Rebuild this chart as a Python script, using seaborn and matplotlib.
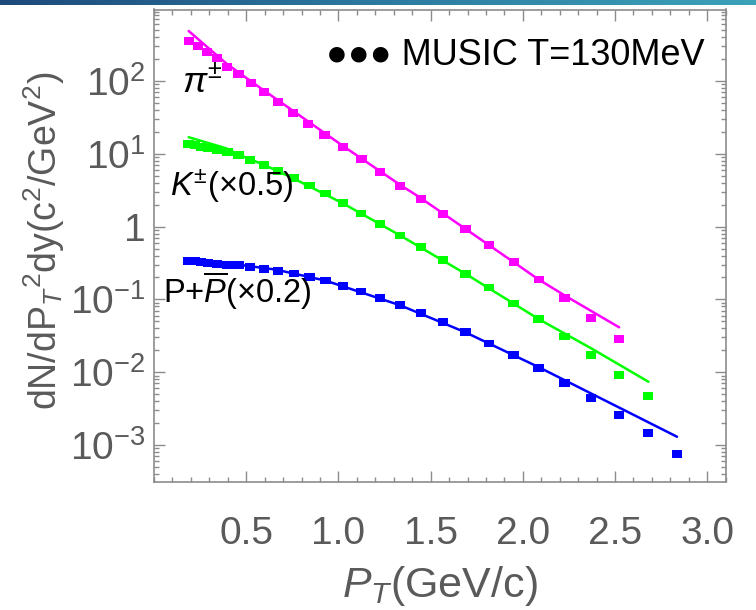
import numpy as np
import pandas as pd
import matplotlib
matplotlib.use("Agg")
import matplotlib.pyplot as plt
import seaborn as sns
from matplotlib.path import Path
from matplotlib.markers import MarkerStyle
from matplotlib.ticker import MultipleLocator, LogLocator, FuncFormatter, NullFormatter, FixedLocator
from matplotlib.colors import LinearSegmentedColormap

# ---------------- data ----------------
species = ["pi", "K", "p"]
colors = ["#ff00ff", "#00ff00", "#0000ff"]

pt_pi = [0.189, 0.237, 0.288, 0.340, 0.397, 0.458, 0.527, 0.595, 0.673, 0.753,
         0.835, 0.925, 1.025, 1.125, 1.224, 1.333, 1.447, 1.568, 1.690, 1.816,
         1.952, 2.088, 2.225, 2.369, 2.522]
y_pi = [358, 305, 252, 209, 157, 124, 93, 70, 51.5, 36.7,
        25.9, 18.3, 12.4, 8.40, 5.67, 3.65, 2.38, 1.476, 0.918, 0.553,
        0.326, 0.187, 0.1035, 0.055, 0.0286]

pt_kp = [0.188, 0.222, 0.255, 0.293, 0.340, 0.398, 0.458, 0.522, 0.598, 0.674,
         0.759, 0.843, 0.931, 1.024, 1.124, 1.225, 1.335, 1.448, 1.568, 1.689,
         1.816, 1.950, 2.085, 2.225, 2.370, 2.523, 2.680, 2.835]
y_K = [13.6, 13.1, 12.5, 12.0, 11.4, 10.7, 9.53, 8.22, 6.95, 5.86,
       4.65, 3.67, 2.85, 2.09, 1.52, 1.097, 0.755, 0.525, 0.345, 0.225,
       0.1455, 0.0883, 0.0533, 0.0308, 0.0172, 0.00916, 0.00471]
y_p = [0.337, 0.334, 0.326, 0.319, 0.309, 0.300, 0.294, 0.279, 0.264, 0.248,
       0.228, 0.205, 0.181, 0.153, 0.129, 0.1045, 0.0830, 0.0644, 0.0485, 0.0353,
       0.0249, 0.0171, 0.01131, 0.00717, 0.00442, 0.00258, 0.00145, 0.00076]

line_pt_pi = [0.188, 0.391, 0.536, 0.753, 1.025, 1.333, 1.441, 1.816, 2.084, 2.238, 2.522]
line_pi = [486, 175, 94.8, 39.1, 12.8, 3.77, 2.52, 0.558, 0.189, 0.109, 0.0414]
line_pt_K = [0.188, 0.391, 0.464, 0.598, 0.751, 1.024, 1.335, 1.689, 2.088, 2.369, 2.681]
line_K = [16.9, 11.9, 9.64, 7.02, 4.66, 2.09, 0.755, 0.225, 0.0533, 0.0214, 0.0074]
line_pt_p = [0.188, 0.391, 0.663, 0.931, 1.335, 1.689, 2.088, 2.522, 2.836]
line_p = [0.359, 0.316, 0.256, 0.181, 0.083, 0.0353, 0.01167, 0.00327, 0.0013]

x_ticks = [0.5, 1.0, 1.5, 2.0, 2.5, 3.0]
x_ticklabels = ["0.5", "1.0", "1.5", "2.0", "2.5", "3.0"]
y_ticks = [1e-3, 1e-2, 1e-1, 1, 1e1, 1e2]

# ---------------- tables ----------------
pts = pd.concat([
    pd.DataFrame({"pt": pt_pi, "v": y_pi, "s": "pi"}),
    pd.DataFrame({"pt": pt_kp[:len(y_K)], "v": y_K, "s": "K"}),
    pd.DataFrame({"pt": pt_kp[:len(y_p)], "v": y_p, "s": "p"}),
], ignore_index=True)
lines = pd.concat([
    pd.DataFrame({"pt": line_pt_pi, "v": line_pi, "s": "pi"}),
    pd.DataFrame({"pt": line_pt_K, "v": line_K, "s": "K"}),
    pd.DataFrame({"pt": line_pt_p, "v": line_p, "s": "p"}),
], ignore_index=True)
pal = dict(zip(species, colors))

# ---------------- style ----------------
sns.set_style("white")
plt.rcParams["font.family"] = ["Liberation Sans", "DejaVu Sans"]
plt.rcParams["mathtext.fontset"] = "custom"
plt.rcParams["mathtext.rm"] = "Liberation Sans"
plt.rcParams["mathtext.it"] = "Liberation Sans:italic"
plt.rcParams["mathtext.bf"] = "Liberation Sans:bold"

gray = "#5a5a5a"
frame = "#8c8c8c"

fig = plt.figure(figsize=(7.56, 6.10), dpi=100)
ax = fig.add_axes([154 / 756, 1 - 482.3 / 610, 571.7 / 756, 472.8 / 610])
ax.set_yscale("log")

sns.lineplot(data=lines, x="pt", y="v", hue="s", palette=pal, hue_order=species,
             estimator=None, sort=False, units="s", legend=False, lw=1.8, ax=ax)
sq = Path([(-1, -0.74), (1, -0.74), (1, 0.74), (-1, 0.74), (-1, -0.74)])
sns.scatterplot(data=pts, x="pt", y="v", hue="s", palette=pal, hue_order=species,
                marker=MarkerStyle(sq), s=56, linewidth=0, edgecolor="none",
                legend=False, ax=ax, zorder=3)

ax.set_xlim(0, 3.1)
ax.set_ylim(10 ** -3.512, 10 ** 2.982)

ax.xaxis.set_major_locator(FixedLocator(x_ticks))
ax.set_xticklabels(x_ticklabels)
ax.xaxis.set_minor_locator(MultipleLocator(0.1))
ax.yaxis.set_major_locator(FixedLocator(y_ticks))
ax.yaxis.set_minor_locator(LogLocator(base=10, subs=np.arange(2, 10)))
ax.yaxis.set_minor_formatter(NullFormatter())


def yfmt(v, pos):
    n = int(round(np.log10(v)))
    return "1" if n == 0 else r"$10^{%d}$" % n


ax.yaxis.set_major_formatter(FuncFormatter(yfmt))

ax.tick_params(which="both", direction="in", bottom=True, left=True, top=True, right=True,
               color=frame, width=1.0)
ax.tick_params(which="major", length=8, labelsize=28, labelcolor=gray)
ax.tick_params(axis="x", which="major", pad=24)
ax.tick_params(axis="y", which="major", pad=6)
ax.tick_params(which="minor", length=3.5)
for sp in ax.spines.values():
    sp.set_color(frame)
    sp.set_linewidth(1.2)

ax.set_xlabel(r"$P_T$(GeV/c)", fontsize=31, color=gray)
ax.xaxis.set_label_coords(0.5, -0.172)
ax.set_ylabel(r"dN/dP$_T$$^2$dy(c$^2$/GeV$^2$)", fontsize=27, color=gray)
ax.yaxis.set_label_coords(-0.152, 0.51)

# annotations
ax.text(0.049, 0.8255, r"$\pi^{\pm}$", transform=ax.transAxes, fontsize=26,
        ha="left", va="baseline", color="black")
ax.text(0.028, 0.6055, r"$K^{\pm}$(×0.5)", transform=ax.transAxes, fontsize=23.5,
        ha="left", va="baseline", color="black")
ax.text(0.0157, 0.379, r"P+$\overline{P}$(×0.2)", transform=ax.transAxes, fontsize=23.5,
        ha="left", va="baseline", color="black")
ax.text(0.9638, 0.8826, "●●● MUSIC T=130MeV", transform=ax.transAxes, fontsize=26,
        ha="right", va="baseline", color="black")

# top gradient band
bax = fig.add_axes([0, 1 - 5 / 610, 1, 5 / 610])
cmap = LinearSegmentedColormap.from_list("band", ["#1d4a7a", "#2d7aa0", "#3ba2b8"])
bax.imshow(np.linspace(0, 1, 256)[None, :], aspect="auto", cmap=cmap)
bax.set_axis_off()

fig.savefig("out.png", dpi=100)
